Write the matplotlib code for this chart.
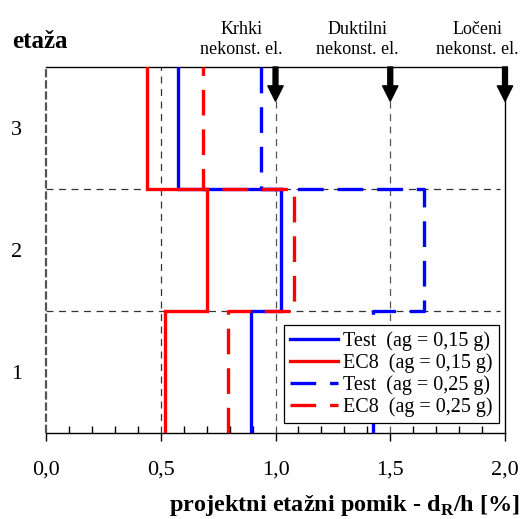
import numpy as np
import matplotlib
matplotlib.use("Agg")
import matplotlib.pyplot as plt

plt.rcParams['font.family'] = ['Liberation Serif', 'DejaVu Serif']
plt.rcParams['mathtext.fontset'] = 'custom'
plt.rcParams['mathtext.bf'] = 'Liberation Serif:bold'
plt.rcParams['mathtext.rm'] = 'Liberation Serif'
plt.rcParams['lines.scale_dashes'] = False

# ---- data ----
stories = [1, 2, 3]
story_labels = ['1', '2', '3']
test_015 = [0.892, 1.022, 0.574]
ec8_015 = [0.518, 0.703, 0.440]
test_025 = [1.423, 1.648, 0.937]
ec8_025 = [0.792, 1.082, 0.683]
series_labels = ['Test  (ag = 0,15 g)', 'EC8  (ag = 0,15 g)',
                 'Test  (ag = 0,25 g)', 'EC8  (ag = 0,25 g)']
limits = [1.0, 1.5, 2.0]
limit_labels = ['Krhki\nnekonst. el.', 'Duktilni\nnekonst. el.', 'Ločeni\nnekonst. el.']
x_ticks = [0.0, 0.5, 1.0, 1.5, 2.0]
x_ticklabels = ['0,0', '0,5', '1,0', '1,5', '2,0']

W, H = 521, 519
fig = plt.figure(figsize=(W / 100, H / 100), dpi=100)
ax = fig.add_axes([46 / W, 1 - 433 / H, (505 - 46) / W, (433 - 67) / H])
ax.set_xlim(0, 2.0)
ax.set_ylim(0, 3)


def step_xy(vals):
    xs = np.repeat(vals, 2)
    ys = np.concatenate([[s - 1, s] for s in stories])
    return xs, ys


# grid lines
for gx in [0.5, 1.0, 1.5]:
    ax.plot([gx, gx], [0, 3], color='#333333' if gx == 0.5 else '#555555',
            lw=0.9, dashes=(5, 4), zorder=1)
for gy in [1, 2]:
    ax.plot([0, 1.98], [gy, gy], color='#333333', lw=0.9, dashes=(5, 4), zorder=1)
ax.plot([0, 0], [0, 3], color='#555555', lw=1.6, dashes=(6, 2), zorder=1, clip_on=False)

styles = [
    (test_015, 'blue', None),
    (ec8_015, 'red', None),
    (test_025, 'blue', (18.5, 10)),
    (ec8_025, 'red', (18.5, 10)),
]
for (vals, col, dash), lab in zip(styles, series_labels):
    xs, ys = step_xy(vals)
    if dash is None:
        ax.plot(xs, ys, color=col, lw=2.4, label=lab, zorder=3,
                solid_joinstyle='miter')
    else:
        ax.plot(xs, ys, color=col, lw=2.4, dashes=dash, label=lab, zorder=3)

# arrows and labels
label_offsets = [-0.148, -0.143, -0.122]
for lx, lt, off in zip(limits, limit_labels, label_offsets):
    ax.annotate('', xy=(lx, 2.72), xytext=(lx, 3.0),
                arrowprops=dict(width=3.5, headwidth=11, headlength=11,
                                color='black', shrink=0),
                annotation_clip=False, zorder=5)
    ax.text(lx + off, 3.0 + 9 / 122, lt, ha='center', va='bottom',
            fontsize=13, linespacing=1.25)

# spines
ax.spines['left'].set_visible(False)
for s in ['top', 'right', 'bottom']:
    ax.spines[s].set_color('black')
    ax.spines[s].set_linewidth(1.0)

ax.set_xticks(x_ticks)
ax.set_xticklabels(x_ticklabels, fontsize=16)
ax.set_xticks(np.arange(0, 2.01, 0.1), minor=True)
ax.tick_params(axis='x', which='major', direction='out', length=6, width=1, pad=14)
ax.tick_params(axis='x', which='minor', direction='in', length=5, width=1, top=False)
ax.set_yticks([s - 0.5 for s in stories])
ax.set_yticklabels(story_labels, fontsize=16)
ax.tick_params(axis='y', length=0, pad=17)

leg = ax.legend(loc='lower right', bbox_to_anchor=(0.987, 0.027), borderaxespad=0,
                fontsize=14.5, frameon=True, fancybox=False, handlelength=2.4,
                handletextpad=0.25, labelspacing=0.12, borderpad=0.3,
                framealpha=1.0)
leg.get_frame().set_edgecolor('black')
leg.get_frame().set_linewidth(0.9)
leg.set_zorder(6)

fig.text(12 / W, 1 - 42 / H, 'etaža', fontsize=18, fontweight='bold',
         ha='left', va='center')
fig.text(344 / W, 1 - 505 / H, r'projektni etažni pomik - d$_\mathbf{R}$/h [%]',
         fontsize=17.5, fontweight='bold', ha='center', va='center')

fig.savefig('out.png', dpi=100)
